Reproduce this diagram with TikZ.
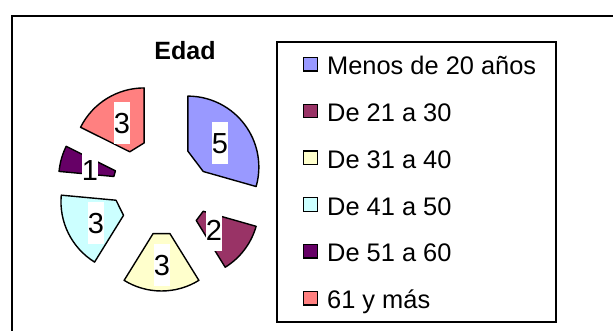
\documentclass[tikz,border=0pt]{standalone}
\usepackage{fontspec}
\setmainfont{Liberation Sans}
\definecolor{cBlue}{HTML}{9999FF}
\definecolor{cMaroon}{HTML}{993366}
\definecolor{cYellow}{HTML}{FFFFCC}
\definecolor{cCyan}{HTML}{CCFFFF}
\definecolor{cPurple}{HTML}{660066}
\definecolor{cPink}{HTML}{FF8080}
\tikzset{
  slice/.style={draw=black, line width=1.4pt, line join=round},
  lbl/.style={fill=white, inner xsep=0pt, inner ysep=0pt, text height=21pt, text depth=0pt,
              minimum height=42pt, font=\fontsize{29}{32}\selectfont},
  swatch/.style={draw=black, line width=1.3pt, minimum size=13.5pt, inner sep=0pt},
  legtext/.style={anchor=base west, inner sep=0pt, font=\fontsize{25.4}{30}\selectfont},
  legendbox/.style={draw=black, line width=1.5pt, minimum width=279pt, minimum height=280pt, inner sep=0pt}
}
\newcommand\pieslice[3]{%
  \pgfmathsetmacro\midang{(#1+#2)/2}%
  \begin{scope}[shift={(161.5,144)}, shift={(\midang:33pt)}]
    \draw[slice, fill=#3] (#1:16pt) -- (#1:71pt) arc[start angle=#1, end angle=#2, radius=71pt] -- (#2:16pt) -- cycle;
  \end{scope}}
\begin{document}
\begin{tikzpicture}[x=1pt, y=1pt]
\clip (0,0) rectangle (613,331);
\fill[white] (0,0) rectangle (613,331);
% outer chart frame
\draw[line width=2pt] (12,315) rectangle (660,-40);
% title
\node[font=\bfseries\fontsize{25}{30}\selectfont, anchor=base, inner sep=0pt] (title) at (185,271) {Edad};
% pie slices
\pieslice{90}{-15.88}{cBlue}
\pieslice{-15.88}{-58.24}{cMaroon}
\pieslice{-58.24}{-121.76}{cYellow}
\pieslice{-121.76}{-185.29}{cCyan}
\pieslice{-185.29}{-206.47}{cPurple}
\pieslice{-206.47}{-270}{cPink}
% data labels
\node[lbl] (v1) at (220,188.2) {5};
\node[lbl] (v2) at (214,101) {2};
\node[lbl] (v3) at (162,66) {3};
\node[lbl] (v4) at (96,107.7) {3};
\node[lbl] (v5) at (90,161) {1};
\node[lbl] (v6) at (122,208.2) {3};
% legend
\node[legendbox] (legend) at (416.5,149) {};
\node[swatch, fill=cBlue]   (s1) at (310.5,266.8) {};
\node[swatch, fill=cMaroon] (s2) at (310.5,220) {};
\node[swatch, fill=cYellow] (s3) at (310.5,173.2) {};
\node[swatch, fill=cCyan]   (s4) at (310.5,126.4) {};
\node[swatch, fill=cPurple] (s5) at (310.5,79.6) {};
\node[swatch, fill=cPink]   (s6) at (310.5,32.8) {};
\node[legtext] (t1) at (327,256.2) {Menos de 20 años};
\node[legtext] (t2) at (327,209.4) {De 21 a 30};
\node[legtext] (t3) at (327,162.6) {De 31 a 40};
\node[legtext] (t4) at (327,115.8) {De 41 a 50};
\node[legtext] (t5) at (327,69) {De 51 a 60};
\node[legtext] (t6) at (327,22.2) {61 y más};
\end{tikzpicture}
\end{document}
